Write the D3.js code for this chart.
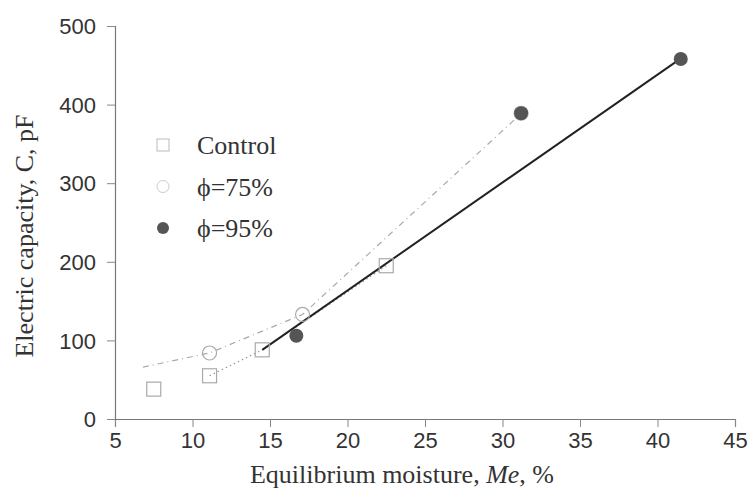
<!DOCTYPE html>
<html>
<head>
<meta charset="utf-8">
<script src="https://cdn.jsdelivr.net/npm/d3@7"></script>
<style>
  body { margin: 0; background: #fff; }
  svg { display: block; }
</style>
</head>
<body>
<div id="chart"></div>
<script>
'use strict';

// Data
const xTicks = [5, 10, 15, 20, 25, 30, 35, 40, 45];
const yTicks = [0, 100, 200, 300, 400, 500];

const controlX = [7.5, 11.1, 14.5, 22.5];
const controlY = [38, 55, 88, 195];

const phi75X = [11.1, 17.1, 31.2];
const phi75Y = [84, 133, 389];

const phi95X = [16.7, 31.2, 41.5];
const phi95Y = [106, 389, 458];

// Trend lines as drawn in the figure
const controlLineX = [11.1, 14.5, 22.5];
const controlLineY = [55, 88, 195];
const phi75LineX = [6.8, 11.1, 17.1, 30.9];
const phi75LineY = [66, 84, 133, 383];
const phi95LineX = [14.5, 41.3];
const phi95LineY = [88, 456];

const legendLabels = ['Control', '\u03d5=75%', '\u03d5=95%'];

const width = 748, height = 493;
const margin = { left: 115, right: 13, top: 26, bottom: 74 };

const svg = d3.select('#chart').append('svg')
  .attr('width', width)
  .attr('height', height);

const x = d3.scaleLinear().domain([5, 45]).range([margin.left, width - margin.right]);
const y = d3.scaleLinear().domain([0, 500]).range([height - margin.bottom, margin.top]);

const zip = (xs, ys) => xs.map((v, i) => [v, ys[i]]);

// Axes
const xAxis = svg.append('g')
  .attr('transform', `translate(0, ${y(0)})`)
  .call(d3.axisBottom(x).tickValues(xTicks).tickSize(8).tickPadding(5));
const yAxis = svg.append('g')
  .attr('transform', `translate(${x(5)}, 0)`)
  .call(d3.axisLeft(y).tickValues(yTicks).tickSize(8).tickPadding(11));

[xAxis, yAxis].forEach(a => {
  a.select('.domain').attr('stroke', '#777').attr('stroke-width', 1.2);
  a.selectAll('.tick line').attr('stroke', '#888');
  a.selectAll('.tick text')
    .attr('fill', '#333')
    .style('font-family', '"Liberation Sans", Arial, sans-serif')
    .style('font-size', '22px');
});
yAxis.selectAll('.tick text').attr('dy', '0.35em');

// Axis titles
svg.append('text')
  .attr('x', 402)
  .attr('y', 483)
  .attr('text-anchor', 'middle')
  .style('font-family', '"Liberation Serif", "Times New Roman", serif')
  .style('font-size', '26px')
  .attr('fill', '#333')
  .call(t => {
    t.append('tspan').text('Equilibrium moisture, ');
    t.append('tspan').style('font-style', 'italic').text('Me');
    t.append('tspan').text(', %');
  });

svg.append('text')
  .attr('transform', `translate(33, ${236}) rotate(-90)`)
  .attr('text-anchor', 'middle')
  .style('font-family', '"Liberation Serif", "Times New Roman", serif')
  .style('font-size', '26px')
  .attr('fill', '#333')
  .text('Electric capacity, C, pF');

// Lines
const line = d3.line().x(d => x(d[0])).y(d => y(d[1]));

svg.append('path')
  .datum(zip(phi75LineX, phi75LineY))
  .attr('d', line)
  .attr('fill', 'none')
  .attr('stroke', '#aaa')
  .attr('stroke-width', 1.2)
  .attr('stroke-dasharray', '6,4,1,4');

svg.append('path')
  .datum(zip(controlLineX, controlLineY))
  .attr('d', line)
  .attr('fill', 'none')
  .attr('stroke', '#999')
  .attr('stroke-width', 1.2)
  .attr('stroke-dasharray', '1.5,3');

svg.append('path')
  .datum(zip(phi95LineX, phi95LineY))
  .attr('d', line)
  .attr('fill', 'none')
  .attr('stroke', '#222')
  .attr('stroke-width', 2);

// Markers
svg.append('g').selectAll('rect')
  .data(zip(controlX, controlY))
  .enter().append('rect')
  .attr('x', d => x(d[0]) - 7)
  .attr('y', d => y(d[1]) - 7)
  .attr('width', 14)
  .attr('height', 14)
  .attr('fill', 'none')
  .attr('stroke', '#aaa')
  .attr('stroke-width', 1.2);

svg.append('g').selectAll('circle')
  .data(zip(phi75X, phi75Y))
  .enter().append('circle')
  .attr('cx', d => x(d[0]))
  .attr('cy', d => y(d[1]))
  .attr('r', 7)
  .attr('fill', 'none')
  .attr('stroke', '#aaa')
  .attr('stroke-width', 1.2);

svg.append('g').selectAll('circle')
  .data(zip(phi95X, phi95Y))
  .enter().append('circle')
  .attr('cx', d => x(d[0]))
  .attr('cy', d => y(d[1]))
  .attr('r', 7)
  .attr('fill', '#555');

// Legend
const legend = svg.append('g').selectAll('g')
  .data(legendLabels)
  .enter().append('g')
  .attr('transform', (d, i) => `translate(163, ${145 + i * 41.5})`);

legend.each(function (d, i) {
  const g = d3.select(this);
  if (i === 0) {
    g.append('rect').attr('x', -6).attr('y', -6).attr('width', 12).attr('height', 12)
      .attr('fill', 'none').attr('stroke', '#bbb');
  } else if (i === 1) {
    g.append('circle').attr('r', 6).attr('fill', 'none').attr('stroke', '#ccc');
  } else {
    g.append('circle').attr('r', 6).attr('fill', '#555');
  }
});

legend.append('text')
  .attr('x', 34)
  .attr('dy', '0.35em')
  .style('font-family', '"Liberation Serif", "Times New Roman", serif')
  .style('font-size', '26px')
  .attr('fill', '#333')
  .text(d => d);
</script>
</body>
</html>
